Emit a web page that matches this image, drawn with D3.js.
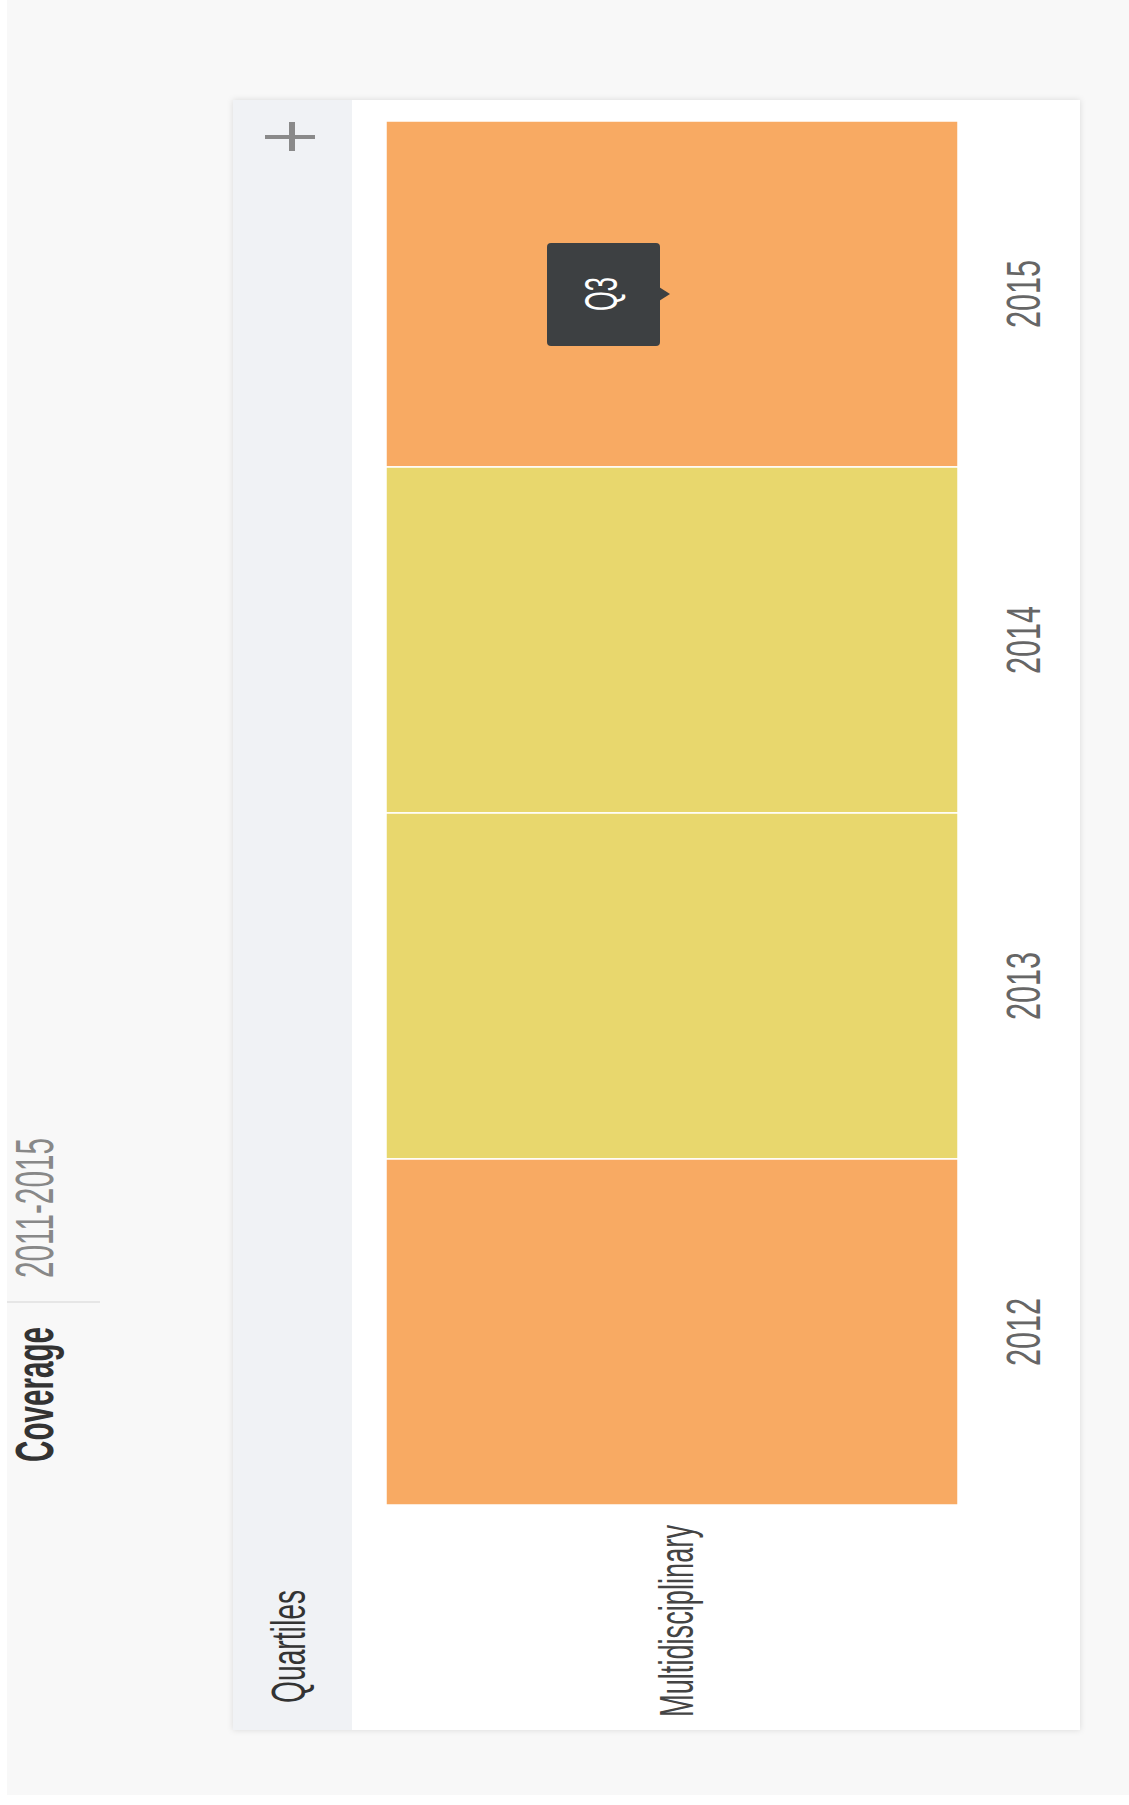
<!DOCTYPE html>
<html>
<head>
<meta charset="utf-8">
<script src="https://cdn.jsdelivr.net/npm/d3@7"></script>
<style>
  html, body { margin: 0; padding: 0; background: #ffffff; }
  svg { display: block; }
  text { font-family: "Liberation Sans", Arial, sans-serif; }
</style>
</head>
<body>
<div id="chart"></div>
<script>

// --> DATA
var years = [2015, 2014, 2013, 2012];
var quartiles = ["Q3", "Q2", "Q2", "Q3"];
var categories = ["Multidisciplinary"];
var coverage = "2011-2015";

var quartileColor = {Q1: "#a4cf63", Q2: "#e8d76d", Q3: "#f8aa63", Q4: "#dd5a4e"};

var cells = years.map(function(y, i){ return {year: y, q: quartiles[i], cat: categories[0]}; });

var W = 1129, H = 1805;

var svg = d3.select("#chart").append("svg")
    .attr("width", W)
    .attr("height", H);

var defs = svg.append("defs");
var f = defs.append("filter").attr("id", "shadow")
    .attr("x", "-5%").attr("y", "-5%").attr("width", "110%").attr("height", "110%");
f.append("feDropShadow").attr("dx", 0).attr("dy", 0).attr("stdDeviation", 3)
    .attr("flood-color", "#000").attr("flood-opacity", 0.12);

// page background
svg.append("rect").attr("x", 7).attr("y", 0).attr("width", W - 7).attr("height", 1795)
    .attr("fill", "#f8f8f8");

//rotated text helper (reads bottom to top, condensed)
function vtext(g, x, y, str, size, len, anchor)
{
    return g.append("text")
        .attr("transform", "translate(" + x + "," + y + ") rotate(-90)")
        .attr("text-anchor", anchor)
        .attr("font-size", size)
        .attr("textLength", len)
        .attr("lengthAdjust", "spacingAndGlyphs")
        .text(str);
}

//coverage header
vtext(svg, 53, 1462, "Coverage", 54, 135, "start")
    .attr("font-weight", "bold").attr("fill", "#333");
svg.append("line").attr("x1", 7).attr("x2", 100).attr("y1", 1302).attr("y2", 1302)
    .attr("stroke", "#e6e6e6").attr("stroke-width", 2);
vtext(svg, 53, 1278, coverage, 54, 140, "start").attr("fill", "#888");

//card
var card = {x: 233, y: 100, w: 847, h: 1630};
svg.append("rect").attr("x", card.x).attr("y", card.y).attr("width", card.w).attr("height", card.h)
    .attr("fill", "#ffffff").attr("filter", "url(#shadow)");
svg.append("rect").attr("x", card.x).attr("y", card.y).attr("width", 119).attr("height", card.h)
    .attr("fill", "#f0f2f5");

vtext(svg, 305, 1703, "Quartiles", 48, 113, "start").attr("fill", "#333");

//plus sign
var plus = svg.append("g").attr("stroke", "#8a8a8a");
plus.append("line").attr("x1", 265).attr("x2", 315).attr("y1", 137).attr("y2", 137).attr("stroke-width", 4);
plus.append("line").attr("x1", 292).attr("x2", 292).attr("y1", 122).attr("y2", 151).attr("stroke-width", 6);

// --> SCALES
var x = d3.scaleBand().domain(categories).range([386, 958]);
var y = d3.scaleBand().domain(years).range([121, 1505]);

svg.append("g").selectAll("rect")
    .data(cells)
    .enter().append("rect")
    .attr("x", function(d){ return x(d.cat); })
    .attr("y", function(d){ return y(d.year); })
    .attr("width", x.bandwidth())
    .attr("height", y.bandwidth())
    .attr("fill", function(d){ return quartileColor[d.q]; })
    .attr("stroke", "#ffffff")
    .attr("stroke-width", 1.5);

//year labels
svg.append("g").selectAll("text")
    .data(years)
    .enter().append("text")
    .attr("transform", function(d){ return "translate(1040," + (y(d) + y.bandwidth() / 2) + ") rotate(-90)"; })
    .attr("text-anchor", "middle")
    .attr("font-size", 48)
    .attr("textLength", 68)
    .attr("lengthAdjust", "spacingAndGlyphs")
    .attr("fill", "#666")
    .text(function(d){ return d; });

//category label
vtext(svg, x(categories[0]) + x.bandwidth() / 2 + 21, 1717, categories[0], 48, 192, "start")
    .attr("fill", "#444");

//tooltip on first cell
var tc = cells[0];
var tx = x(tc.cat) + x.bandwidth() / 2, ty = y(tc.year) + y.bandwidth() / 2;
var tip = svg.append("g");
tip.append("rect").attr("x", tx - 125).attr("y", ty - 51).attr("width", 113).attr("height", 103)
    .attr("rx", 4).attr("fill", "#3d4042");
tip.append("path")
    .attr("d", "M" + (tx - 13) + "," + (ty - 7) + "L" + (tx - 2) + "," + ty + "L" + (tx - 13) + "," + (ty + 7) + "Z")
    .attr("fill", "#3d4042");
vtext(tip, tx - 55, ty, tc.q, 46, 34, "middle").attr("fill", "#ffffff");

</script>
</body>
</html>
